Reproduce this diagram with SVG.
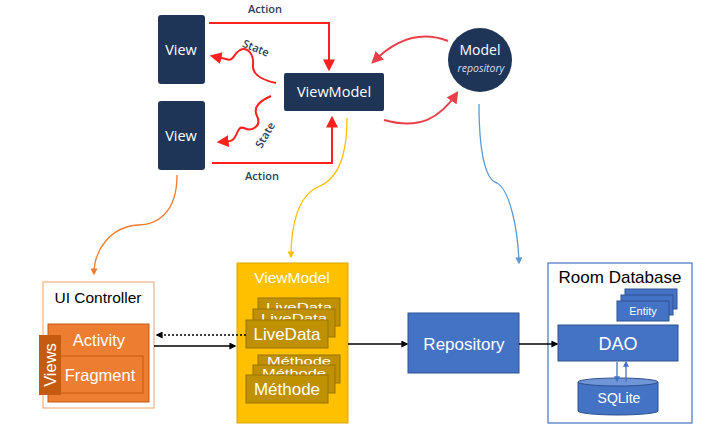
<svg xmlns="http://www.w3.org/2000/svg" width="726" height="429" viewBox="0 0 726 429">
<defs>
<style>
.navy{fill:#1E3557;}
.wt{fill:#fff;font-family:"Open Sans","DejaVu Sans",sans-serif;text-anchor:middle;}
.lbl{fill:#2A3F5F;font-family:"Open Sans","DejaVu Sans",sans-serif;font-size:11px;font-weight:600;text-anchor:middle;}
.ls{font-family:"Liberation Sans",Arial,sans-serif;text-anchor:middle;}
.bk{font-family:"Liberation Sans",Arial,sans-serif;text-anchor:middle;font-size:11px;fill:#fff;}
.red{fill:none;stroke:#FF2020;stroke-width:2;}
.red2{fill:none;stroke:#E8404B;stroke-width:2;}
.gold{fill:#BF9000;stroke:#9A7400;stroke-width:1;}
.db{fill:#4472C4;stroke:#2F528F;stroke-width:1;}
</style>
<clipPath id="cL1"><rect x="258" y="298" width="82" height="11"/></clipPath>
<clipPath id="cL2"><rect x="253" y="309" width="82" height="11"/></clipPath>
<clipPath id="cM1"><rect x="258" y="355" width="82" height="10"/></clipPath>
<clipPath id="cM2"><rect x="253" y="365" width="82" height="10"/></clipPath>
<marker id="mRed" viewBox="0 0 10 10" refX="8" refY="5" markerWidth="12" markerHeight="12" markerUnits="userSpaceOnUse" orient="auto"><path d="M0,0 L10,5 L0,10 z" fill="#FF2020"/></marker>
<marker id="mRed2" viewBox="0 0 10 10" refX="8" refY="5" markerWidth="12" markerHeight="12" markerUnits="userSpaceOnUse" orient="auto"><path d="M0,0 L10,5 L0,10 z" fill="#E8404B"/></marker>
<marker id="mOr" viewBox="0 0 10 10" refX="8" refY="5" markerWidth="7" markerHeight="7" markerUnits="userSpaceOnUse" orient="auto"><path d="M0,0 L10,5 L0,10 z" fill="#ED7D31"/></marker>
<marker id="mYe" viewBox="0 0 10 10" refX="8" refY="5" markerWidth="7" markerHeight="7" markerUnits="userSpaceOnUse" orient="auto"><path d="M0,0 L10,5 L0,10 z" fill="#FFC000"/></marker>
<marker id="mBl" viewBox="0 0 10 10" refX="8" refY="5" markerWidth="7" markerHeight="7" markerUnits="userSpaceOnUse" orient="auto"><path d="M0,0 L10,5 L0,10 z" fill="#5B9BD5"/></marker>
<marker id="mBk" viewBox="0 0 10 10" refX="8" refY="5" markerWidth="7" markerHeight="7" markerUnits="userSpaceOnUse" orient="auto"><path d="M0,0 L10,5 L0,10 z" fill="#000"/></marker>
<marker id="mDb" viewBox="0 0 10 10" refX="8" refY="5" markerWidth="6" markerHeight="6" markerUnits="userSpaceOnUse" orient="auto"><path d="M0,0 L10,5 L0,10 z" fill="#4472C4"/></marker>
</defs>
<rect width="726" height="429" fill="#fff"/>

<g id="view1"><rect class="navy" x="158" y="15" width="47" height="69" rx="3"/><text class="wt" x="181" y="55" font-size="14.5">View</text></g>
<g id="view2"><rect class="navy" x="158" y="101" width="47" height="69" rx="3"/><text class="wt" x="181" y="141" font-size="14.5">View</text></g>
<g id="viewmodel-top"><rect class="navy" x="284" y="73" width="100" height="38" rx="2"/><text class="wt" x="334" y="97" font-size="14.5">ViewModel</text></g>
<g id="model"><circle class="navy" cx="480" cy="60" r="32"/><text class="wt" x="480" y="55" font-size="14">Model</text><text class="wt" x="481" y="72" font-size="10.5" font-style="italic" style="fill:#D8DEE8">repository</text></g>

<g id="ui-controller">
<rect x="43" y="282" width="111" height="126" fill="#fff" stroke="#F4B183" stroke-width="1.2"/>
<text class="ls" x="98" y="303" font-size="15.5" fill="#000">UI Controller</text>
<rect x="48" y="324" width="101" height="78" fill="#ED7D31" stroke="#C55A11" stroke-width="1"/>
<text class="ls" x="99" y="346" font-size="16.5" fill="#fff">Activity</text>
<rect x="59" y="356" width="84" height="37" fill="#ED7D31" stroke="#C55A11" stroke-width="1"/>
<text class="ls" x="100" y="381" font-size="16.5" fill="#fff">Fragment</text>
<rect x="39" y="335" width="22" height="60" fill="#C55A11"/>
<text class="ls" x="50" y="371" font-size="16.5" fill="#fff" transform="rotate(-90 50 365)">Views</text>
</g>

<g id="viewmodel">
<rect x="237" y="263" width="111" height="160" fill="#FFC000" stroke="#D9A400" stroke-width="1"/>
<text class="ls" x="292" y="283" font-size="15.5" fill="#fff">ViewModel</text>
<rect class="gold" x="258" y="298" width="82" height="28"/>
<g clip-path="url(#cL1)"><text class="bk" x="299" y="311" textLength="66" lengthAdjust="spacingAndGlyphs">LiveData</text></g>
<rect class="gold" x="253" y="309" width="82" height="28"/>
<g clip-path="url(#cL2)"><text class="bk" x="294" y="321.5" textLength="66" lengthAdjust="spacingAndGlyphs">LiveData</text></g>
<rect class="gold" x="246" y="320" width="82" height="28"/>
<text class="ls" x="287" y="340" font-size="17" fill="#fff">LiveData</text>
<rect class="gold" x="258" y="355" width="82" height="28"/>
<g clip-path="url(#cM1)"><text class="bk" x="299" y="364.5" textLength="64" lengthAdjust="spacingAndGlyphs">Méthode</text></g>
<rect class="gold" x="253" y="365" width="82" height="28"/>
<g clip-path="url(#cM2)"><text class="bk" x="294" y="377" textLength="64" lengthAdjust="spacingAndGlyphs">Méthode</text></g>
<rect class="gold" x="246" y="375" width="82" height="28"/>
<text class="ls" x="287" y="395" font-size="17" fill="#fff">Méthode</text>
</g>

<g id="repository">
<rect class="db" x="408" y="313" width="111" height="60"/>
<text class="ls" x="464" y="350" font-size="17" fill="#fff">Repository</text>
</g>

<g id="room-database">
<rect x="548" y="263" width="144" height="160" fill="#fff" stroke="#4472C4" stroke-width="1.2"/>
<text class="ls" x="620" y="283" font-size="17" fill="#000">Room Database</text>
<rect class="db" x="625" y="289" width="52" height="20"/>
<rect class="db" x="621" y="295" width="52" height="20"/>
<rect class="db" x="617" y="301" width="52" height="20"/>
<text class="ls" x="643" y="315" font-size="11" fill="#fff">Entity</text>
<rect class="db" x="558" y="325" width="120" height="36"/>
<text class="ls" x="618" y="350" font-size="18" fill="#fff">DAO</text>
<path class="db" d="M578,382 V411 A40,4 0 0 0 658,411 V382"/>
<ellipse cx="618" cy="382" rx="40" ry="4" fill="#6F95D6" stroke="#2F528F"/>
<text class="ls" x="619" y="403" font-size="14" fill="#fff">SQLite</text>
</g>

<g id="connectors">
<path class="red" d="M209,23 H329 V69" marker-end="url(#mRed)"/>
<path class="red" d="M212,163 H332 V118" marker-end="url(#mRed)"/>
<path class="red" d="M276,83 C262,80 252,75 253,65 C254,55 248,46 240,50 C233,54 234,62 226,59 L212,56" marker-end="url(#mRed)"/>
<path class="red" d="M271,96 C262,100 252,106 257,116 C262,126 252,132 244,128 C236,125 238,140 230,141 L219,142" marker-end="url(#mRed)"/>
<path class="red2" d="M448,41 C420,30 395,40 373,62" marker-end="url(#mRed2)"/>
<path class="red2" d="M384,120 C420,130 440,118 457,93" marker-end="url(#mRed2)"/>
<path d="M177,175 C177,215 155,225 138,225 C110,227 94,250 94,274" fill="none" stroke="#ED7D31" stroke-width="1.3" marker-end="url(#mOr)"/>
<path d="M347,118 C347,170 330,182 318,187 C298,196 291,225 291,257" fill="none" stroke="#FFC000" stroke-width="1.3" marker-end="url(#mYe)"/>
<path d="M479,104 C479,150 485,180 497,183 C510,190 518,230 519,263" fill="none" stroke="#5B9BD5" stroke-width="1.3" marker-end="url(#mBl)"/>
<path d="M246,335 H157" fill="none" stroke="#000" stroke-width="1.5" stroke-dasharray="2,2" marker-end="url(#mBk)"/>
<path d="M154,346 H235" fill="none" stroke="#000" stroke-width="1.5" marker-end="url(#mBk)"/>
<path d="M348,344 H407" fill="none" stroke="#000" stroke-width="1.5" marker-end="url(#mBk)"/>
<path d="M519,344 H557" fill="none" stroke="#000" stroke-width="1.5" marker-end="url(#mBk)"/>
<path d="M617,362 V381" fill="none" stroke="#4472C4" stroke-width="1.3" marker-end="url(#mDb)"/>
<path d="M626,382 V362" fill="none" stroke="#4472C4" stroke-width="1.3" marker-end="url(#mDb)"/>
<text class="lbl" x="265" y="13">Action</text>
<text class="lbl" x="262" y="180">Action</text>
<text class="lbl" x="256" y="52" transform="rotate(22 256 48)">State</text>
<text class="lbl" x="265" y="139" transform="rotate(-60 265 135)">State</text>
</g>
</svg>
